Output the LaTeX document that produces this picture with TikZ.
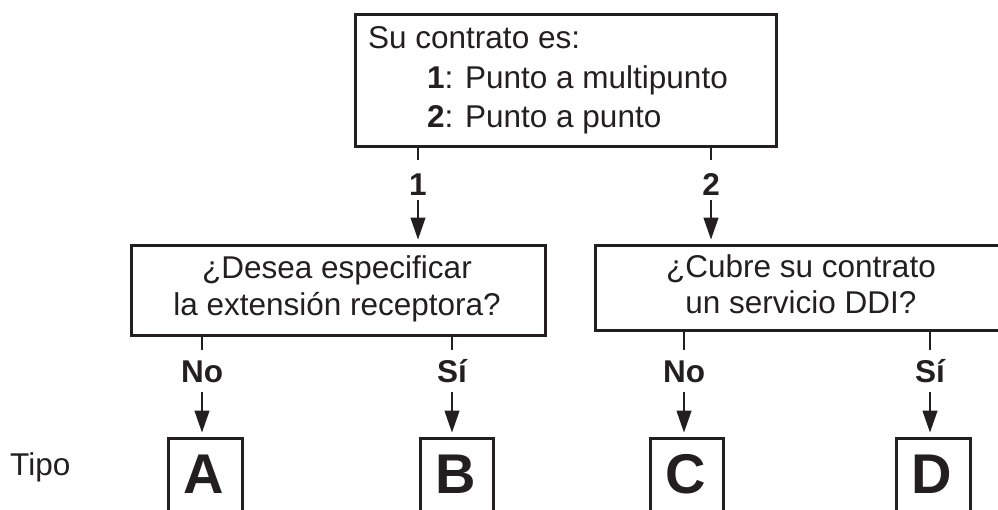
\documentclass[tikz,border=0pt]{standalone}
\usepackage{fontspec}
\setmainfont{Liberation Sans}
\usetikzlibrary{arrows.meta}
\definecolor{ink}{HTML}{231F20}
\begin{document}
\begin{tikzpicture}[x=1pt,y=1pt,
  box/.style={draw=ink, line width=2.6pt, anchor=north west, inner sep=0pt},
  txt/.style={text=ink, font=\fontsize{31.5}{38}\selectfont, inner sep=0pt},
  lbl/.style={text=ink, font=\fontsize{31.5}{38}\selectfont\bfseries, inner sep=0pt, anchor=base},
  big/.style={text=ink, font=\fontsize{56}{60}\selectfont\bfseries, inner sep=0pt, anchor=base},
  stub/.style={draw=ink, line width=1.3pt},
  arr/.style={draw=ink, line width=1.3pt, -{Triangle[length=22pt,width=15pt]}, shorten >=4.5pt},
]
\useasboundingbox (0,0) rectangle (998,-509);
\clip (0,0) rectangle (998,-509);

% top box
\node[box, minimum width=421pt, minimum height=132pt] (top) at (354,-13) {};
\node[txt, anchor=base west] (t0) at (368,-48) {Su contrato es:};
\node[txt, anchor=base west] (t1) at (427,-88) {\textbf{1}: Punto a multipunto};
\node[txt, anchor=base west] (t2) at (427,-127) {\textbf{2}: Punto a punto};

% question boxes
\node[box, minimum width=414pt, minimum height=90pt] (q1) at (130,-244) {};
\node[txt, anchor=base] (q1a) at (337,-278) {¿Desea especificar};
\node[txt, anchor=base] (q1b) at (337,-315) {la extensión receptora?};

\node[box, minimum width=414pt, minimum height=85pt] (q2) at (594,-244) {};
\node[txt, anchor=base] (q2a) at (801,-277) {¿Cubre su contrato};
\node[txt, anchor=base] (q2b) at (801,-313) {un servicio DDI?};

% labels level 1
\node[lbl] (n1) at (418,-195) {1};
\node[lbl] (n2) at (711,-195) {2};

\draw[stub] (top.south -| n1) -- ++(0,-12);
\draw[stub] (top.south -| n2) -- ++(0,-12);
\draw[arr] ([yshift=-5pt]n1.base) -- (q1.north -| n1);
\draw[arr] ([yshift=-5pt]n2.base) -- (q2.north -| n2);

% result boxes
\node[box, minimum width=74pt, minimum height=100pt] (A) at (167,-437) {};
\node[box, minimum width=73pt, minimum height=100pt] (B) at (419,-437) {};
\node[box, minimum width=73pt, minimum height=100pt] (C) at (649,-437) {};
\node[box, minimum width=74pt, minimum height=100pt] (D) at (895,-437) {};
\node[big] (la) at (204,-493) {A};
\node[big] (lb) at (455.5,-493) {B};
\node[big] (lc) at (685.5,-493) {C};
\node[big] (ld) at (932,-493) {D};

\node[txt, anchor=base west] (tipo) at (10,-475) {Tipo};

% labels level 2
\node[lbl] (na) at (202,-382) {No};
\node[lbl] (nb) at (452,-382) {Sí};
\node[lbl] (nc) at (684,-382) {No};
\node[lbl] (nd) at (930,-382) {Sí};

\draw[stub] (q1.south -| na) -- ++(0,-13);
\draw[stub] (q1.south -| nb) -- ++(0,-13);
\draw[stub] (q2.south -| nc) -- ++(0,-18);
\draw[stub] (q2.south -| nd) -- ++(0,-18);

\draw[arr] ([yshift=-10pt]na.base) -- (A.north -| na);
\draw[arr] ([yshift=-10pt]nb.base) -- (B.north -| nb);
\draw[arr] ([yshift=-10pt]nc.base) -- (C.north -| nc);
\draw[arr] ([yshift=-10pt]nd.base) -- (D.north -| nd);
\end{tikzpicture}
\end{document}
